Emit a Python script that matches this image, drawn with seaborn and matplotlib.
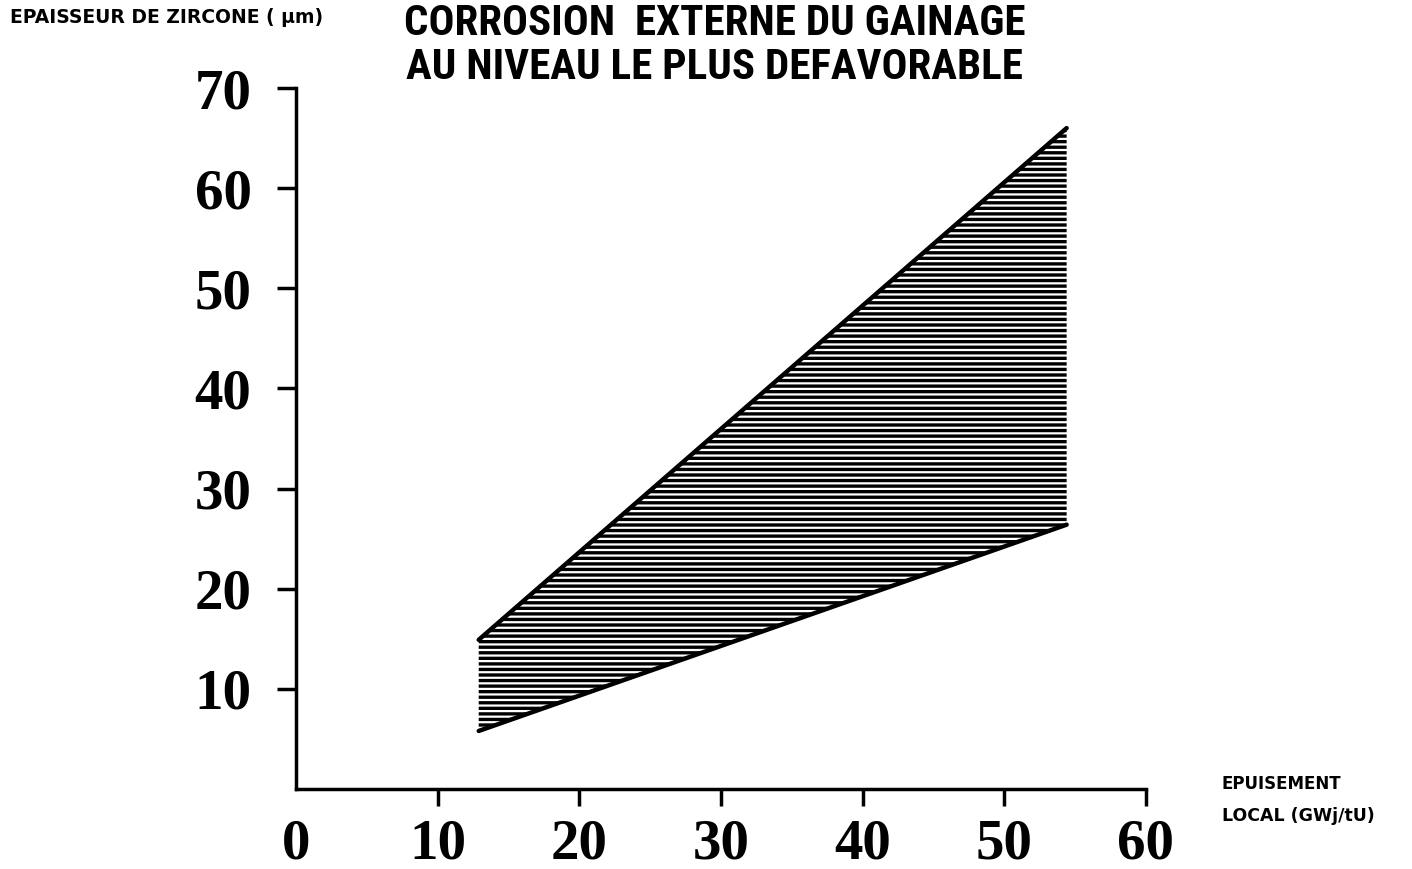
import pandas as pd
import matplotlib
matplotlib.use("Agg")
import matplotlib.pyplot as plt
import seaborn as sns

# burnup range (GWj/tU) and zirconia thickness envelope (um)
burnup = [12.9, 54.4]
zr_max = [14.9, 66.0]
zr_min = [5.8, 26.4]
xticks = [0, 10, 20, 30, 40, 50, 60]
yticks = [10, 20, 30, 40, 50, 60, 70]

df = pd.DataFrame({'burnup': burnup, 'max': zr_max, 'min': zr_min})

sns.set_style('ticks')
plt.rcParams['hatch.linewidth'] = 2.4
plt.rcParams['font.family'] = ['Liberation Serif', 'DejaVu Serif']
plt.rcParams['text.color'] = 'black'

narrow = ['DejaVu Sans Condensed', 'Liberation Sans Narrow', 'Roboto Condensed',
          'Open Sans Condensed', 'Liberation Sans', 'DejaVu Sans']
wide = ['DejaVu Sans']

fig = plt.figure(figsize=(14.12, 8.69), dpi=100)
ax = fig.add_axes([0.2096, 0.092, 0.602, 0.8067])

ax.fill_between(df['burnup'], df['min'], df['max'], facecolor='white',
                edgecolor='black', hatch='---', linewidth=0)
sns.lineplot(data=df, x='burnup', y='max', color='black', linewidth=3.2, ax=ax)
sns.lineplot(data=df, x='burnup', y='min', color='black', linewidth=3.2, ax=ax)

ax.set_xlim(0, 60)
ax.set_ylim(0, 70)
ax.set_xticks(xticks)
ax.set_yticks(yticks)
ax.set_xlabel('')
ax.set_ylabel('')
sns.despine(ax=ax)
for s in ['left', 'bottom']:
    ax.spines[s].set_linewidth(2.5)
    ax.spines[s].set_color('black')
ax.tick_params(axis='y', length=14, width=2.5, pad=18, color='black')
ax.tick_params(axis='x', length=12, width=2.5, pad=9, color='black')
ax.xaxis.get_major_ticks()[0].tick1line.set_visible(False)
for lab in ax.get_xticklabels() + ax.get_yticklabels():
    lab.set_fontsize(41)
    lab.set_fontweight('bold')
    lab.set_color('black')

fig.text(0.506, 0.997, 'CORROSION  EXTERNE DU GAINAGE\nAU NIVEAU LE PLUS DEFAVORABLE',
         ha='center', va='top', fontsize=31, fontweight='bold', linespacing=1.1,
         color='black', family=narrow)
fig.text(0.007, 0.980, 'EPAISSEUR DE ZIRCONE ( µm)', ha='left', va='center',
         fontsize=13.5, fontweight='bold', color='black', family=wide)
fig.text(0.8654, 1 - 784 / 869, 'EPUISEMENT', ha='left', va='center',
         fontsize=12, fontweight='bold', color='black', family=wide)
fig.text(0.8654, 1 - 816 / 869, 'LOCAL (GWj/tU)', ha='left', va='center',
         fontsize=12.5, fontweight='bold', color='black', family=wide)

fig.savefig('out.png', dpi=100)
